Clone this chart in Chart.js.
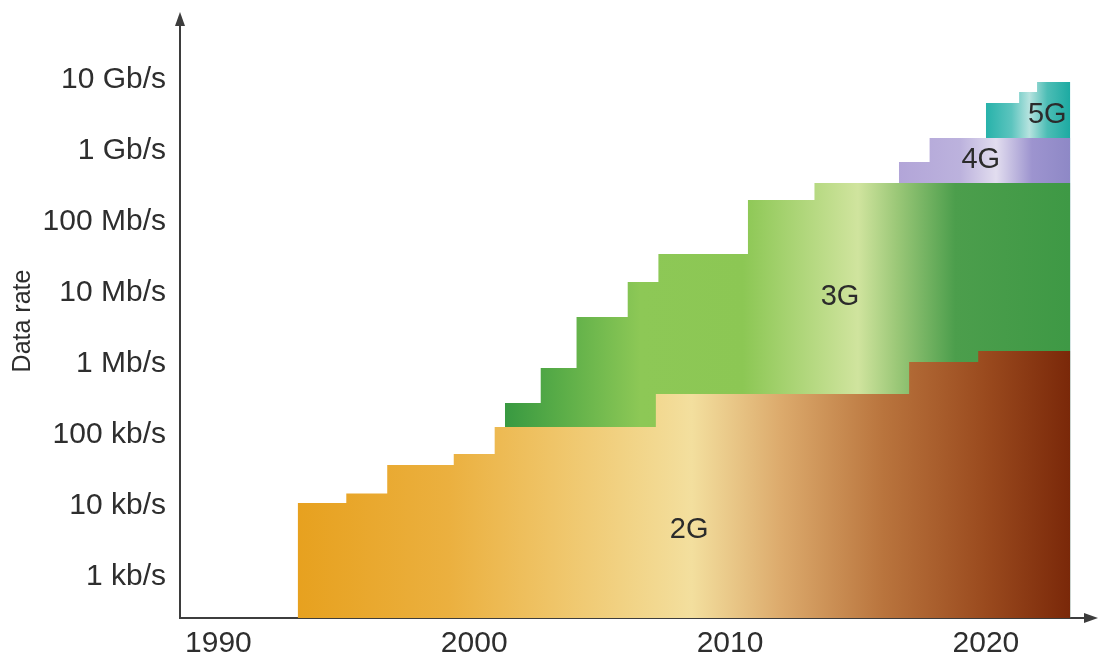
<!DOCTYPE html>
<html>
<head>
<meta charset="utf-8">
<script src="https://cdn.jsdelivr.net/npm/chart.js@4/dist/chart.umd.min.js"></script>
<style>
  html, body { margin: 0; padding: 0; background: #fff; }
  #wrap { width: 1098px; height: 666px; }
</style>
</head>
<body>
<div id="wrap"><canvas id="chartRates"></canvas></div>
<script>
// data rate in kb/s, steps start at the given year
const years2G = [1993.1, 1995.0, 1996.6, 1999.2, 2000.8, 2007.1, 2017.0, 2019.7, 2023.3];
const rates2G = [11, 15, 38, 54, 130, 378, 1070, 1520, 1520];

const years3G = [2001.2, 2002.6, 2004.0, 2006.0, 2007.2, 2010.7, 2013.3, 2023.3];
const rates3G = [282, 879, 4590, 14300, 35400, 204000, 354000, 354000];

const years4G = [2016.6, 2017.8, 2023.3];
const rates4G = [700000, 1520000, 1520000];

const years5G = [2020.0, 2021.3, 2022.0, 2023.3];
const rates5G = [4740000, 6780000, 9370000, 9370000];

const generations = ['2G', '3G', '4G', '5G'];

const yearTicks = [1990, 2000, 2010, 2020];
const rateTicks = [1, 10, 100, 1000, 10000, 100000, 1000000, 10000000];
const rateTickLabels = ['1 kb/s', '10 kb/s', '100 kb/s', '1 Mb/s', '10 Mb/s', '100 Mb/s', '1 Gb/s', '10 Gb/s'];

// colour stops along the years for each band
const bandColors = {
    '2G': [[1993.1, '#e7a11f'], [1999, '#ebb03f'], [2003, '#efc467'], [2008.5, '#f3df9e'],
           [2012, '#dcaa6c'], [2016, '#b9743d'], [2020, '#9a4a1e'], [2023.3, '#7a2809']],
    '3G': [[2001.2, '#389941'], [2003.5, '#5cae48'], [2006.5, '#8dc856'], [2010.5, '#8cc754'],
           [2015.0, '#d0e49e'], [2016.5, '#9cc878'], [2018.8, '#4c9e4c'], [2023.3, '#3e9945']],
    '4G': [[2016.6, '#b2a5d8'], [2019, '#bcb2dd'], [2020.4, '#e2ddef'], [2021.8, '#9d94cf'], [2023.3, '#8e88c6']],
    '5G': [[2020.0, '#27b2aa'], [2021.0, '#5cc4be'], [2021.7, '#b6e3df'], [2022.4, '#4cbdb5'], [2023.3, '#1caaa2']]
};

const labelSpots = {
    '2G': [2008.4, 4.6],
    '3G': [2014.3, 8800],
    '4G': [2019.8, 750000],
    '5G': [2022.4, 3200000]
};

const fontFamily = '"Liberation Sans", Arial, sans-serif';

const makeGradient = (name) => (context) => {
    const chart = context.chart;
    const area = chart.chartArea;
    if (!area) return null;
    const xScale = chart.scales.x;
    const g = chart.ctx.createLinearGradient(area.left, 0, area.right, 0);
    const w = area.right - area.left;
    bandColors[name].forEach(([yr, col]) => {
        const f = (xScale.getPixelForValue(yr) - area.left) / w;
        g.addColorStop(Math.min(1, Math.max(0, f)), col);
    });
    return g;
};

const toPoints = (xs, ys) => xs.map((x, i) => ({ x: x, y: ys[i] }));

const band = (name, xs, ys) => ({
    label: name,
    data: toPoints(xs, ys),
    stepped: 'before',
    fill: 'start',
    borderWidth: 0,
    pointRadius: 0,
    backgroundColor: makeGradient(name)
});

const genLabels = {
    id: 'genLabels',
    afterDatasetsDraw(chart) {
        const { ctx, scales } = chart;
        ctx.save();
        ctx.font = '29px ' + fontFamily;
        ctx.fillStyle = '#2b2b2b';
        ctx.textAlign = 'center';
        ctx.textBaseline = 'middle';
        generations.forEach(g => {
            const [yr, rate] = labelSpots[g];
            ctx.fillText(g, scales.x.getPixelForValue(yr), scales.y.getPixelForValue(rate));
        });
        ctx.restore();
    }
};

const axisArrows = {
    id: 'axisArrows',
    afterDraw(chart) {
        const { ctx, chartArea } = chart;
        ctx.save();
        ctx.fillStyle = '#3d3d3d';
        ctx.beginPath();
        ctx.moveTo(chartArea.left, chartArea.top - 12);
        ctx.lineTo(chartArea.left - 5, chartArea.top + 2);
        ctx.lineTo(chartArea.left + 5, chartArea.top + 2);
        ctx.closePath();
        ctx.fill();
        ctx.beginPath();
        ctx.moveTo(chartArea.right + 8, chartArea.bottom);
        ctx.lineTo(chartArea.right - 6, chartArea.bottom - 5);
        ctx.lineTo(chartArea.right - 6, chartArea.bottom + 5);
        ctx.closePath();
        ctx.fill();
        ctx.restore();
    }
};

const ctx = document.getElementById('chartRates').getContext('2d');

const chartRates = new Chart(ctx, {
    type: 'line',
    data: {
        datasets: [
            band('2G', years2G, rates2G),
            band('3G', years3G, rates3G),
            band('4G', years4G, rates4G),
            band('5G', years5G, rates5G)
        ]
    },
    options: {
        responsive: true,
        maintainAspectRatio: false,
        animation: false,
        layout: { padding: { left: 8, right: 8, top: 24, bottom: 0 } },
        plugins: {
            legend: { display: false },
            tooltip: { enabled: false }
        },
        scales: {
            x: {
                type: 'linear',
                min: 1988.5,
                max: 2024.07,
                grid: { display: false, drawTicks: false },
                border: { display: true, color: '#3d3d3d', width: 2 },
                afterBuildTicks: (scale) => {
                    scale.ticks = yearTicks.map(v => ({ value: v }));
                },
                afterFit: (scale) => { scale.height = 48; },
                ticks: {
                    padding: 8,
                    color: '#2e2e2e',
                    font: { family: fontFamily, size: 30 },
                    callback: (v) => String(v)
                }
            },
            y: {
                type: 'logarithmic',
                min: 0.265,
                max: 61500000,
                grid: { display: false, drawTicks: false },
                border: { display: true, color: '#3d3d3d', width: 2 },
                afterBuildTicks: (scale) => {
                    scale.ticks = rateTicks.map(v => ({ value: v }));
                },
                afterFit: (scale) => {
                    scale.width = 172;
                    scale.paddingTop = 0;
                    scale.paddingBottom = 0;
                },
                title: {
                    display: true,
                    text: 'Data rate',
                    color: '#2e2e2e',
                    padding: { top: 0, bottom: 0 },
                    font: { family: fontFamily, size: 25 }
                },
                ticks: {
                    padding: 14,
                    color: '#2e2e2e',
                    font: { family: fontFamily, size: 30 },
                    callback: (v) => {
                        const i = rateTicks.indexOf(v);
                        return i >= 0 ? rateTickLabels[i] : '';
                    }
                }
            }
        }
    },
    plugins: [genLabels, axisArrows]
});
</script>
</body>
</html>
